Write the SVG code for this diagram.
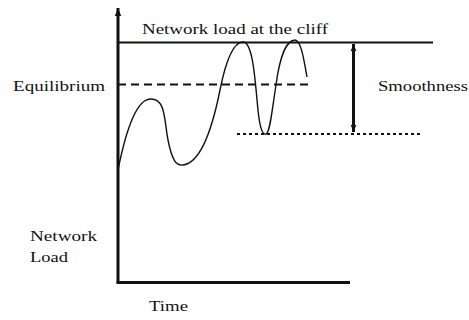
<svg xmlns="http://www.w3.org/2000/svg" width="469" height="320" viewBox="0 0 469 320">
<style>
.t{font-family:"Liberation Serif","Times New Roman",serif;font-size:15px;fill:#111}
.ln{stroke:#111;fill:none}
</style>
<defs>
<marker id="ah" viewBox="0 0 10 10" refX="10" refY="5" markerWidth="7" markerHeight="7" orient="auto-start-reverse" markerUnits="userSpaceOnUse">
<path d="M0,1 L10,5 L0,9 Z" fill="#111"/>
</marker>
<marker id="ah2" viewBox="0 0 10 10" refX="10" refY="5" markerWidth="10" markerHeight="8" orient="auto-start-reverse" markerUnits="userSpaceOnUse">
<path d="M0,1 L10,5 L0,9 Z" fill="#111"/>
</marker>
</defs>
<rect width="469" height="320" fill="#fff"/>
<g id="connectors">
<line class="ln" x1="118" y1="283" x2="118" y2="8" stroke-width="3" marker-end="url(#ah2)"/>
<line class="ln" x1="116.5" y1="282.5" x2="350" y2="282.5" stroke-width="3"/>
<line class="ln" x1="118" y1="42.5" x2="433" y2="42.5" stroke-width="2"/>
<line class="ln" x1="118" y1="84.5" x2="313" y2="84.5" stroke-width="2" stroke-dasharray="8,5"/>
<line class="ln" x1="237" y1="134" x2="422" y2="134" stroke-width="2" stroke-dasharray="3,3"/>
<line class="ln" x1="353.5" y1="44" x2="353.5" y2="132" stroke-width="3" marker-start="url(#ah)" marker-end="url(#ah)"/>
<path class="ln" stroke-width="1.4" d="M118,170 C126,130 136,100 150,99 C166,98 164,120 168,140 C172,160 176,166 183,165 C200,163 212,130 220,90 C226,60 234,42 243,42 C253,42 255,80 258,110 C260,130 263,135 266,134 C270,133 272,110 276,85 C280,55 287,40 295,40 C301,40 304,60 307,77"/>
</g>
<g id="cliff"><text class="t" x="142" y="34" textLength="186" lengthAdjust="spacingAndGlyphs">Network load at the cliff</text></g>
<g id="equilibrium"><text class="t" x="13" y="91" textLength="92" lengthAdjust="spacingAndGlyphs">Equilibrium</text></g>
<g id="smoothness"><text class="t" x="378" y="91" textLength="90" lengthAdjust="spacingAndGlyphs">Smoothness</text></g>
<g id="load"><text class="t" x="30" y="241" textLength="67" lengthAdjust="spacingAndGlyphs">Network</text><text class="t" x="30" y="262" textLength="38" lengthAdjust="spacingAndGlyphs">Load</text></g>
<g id="time"><text class="t" x="149" y="311" textLength="39" lengthAdjust="spacingAndGlyphs">Time</text></g>
</svg>
